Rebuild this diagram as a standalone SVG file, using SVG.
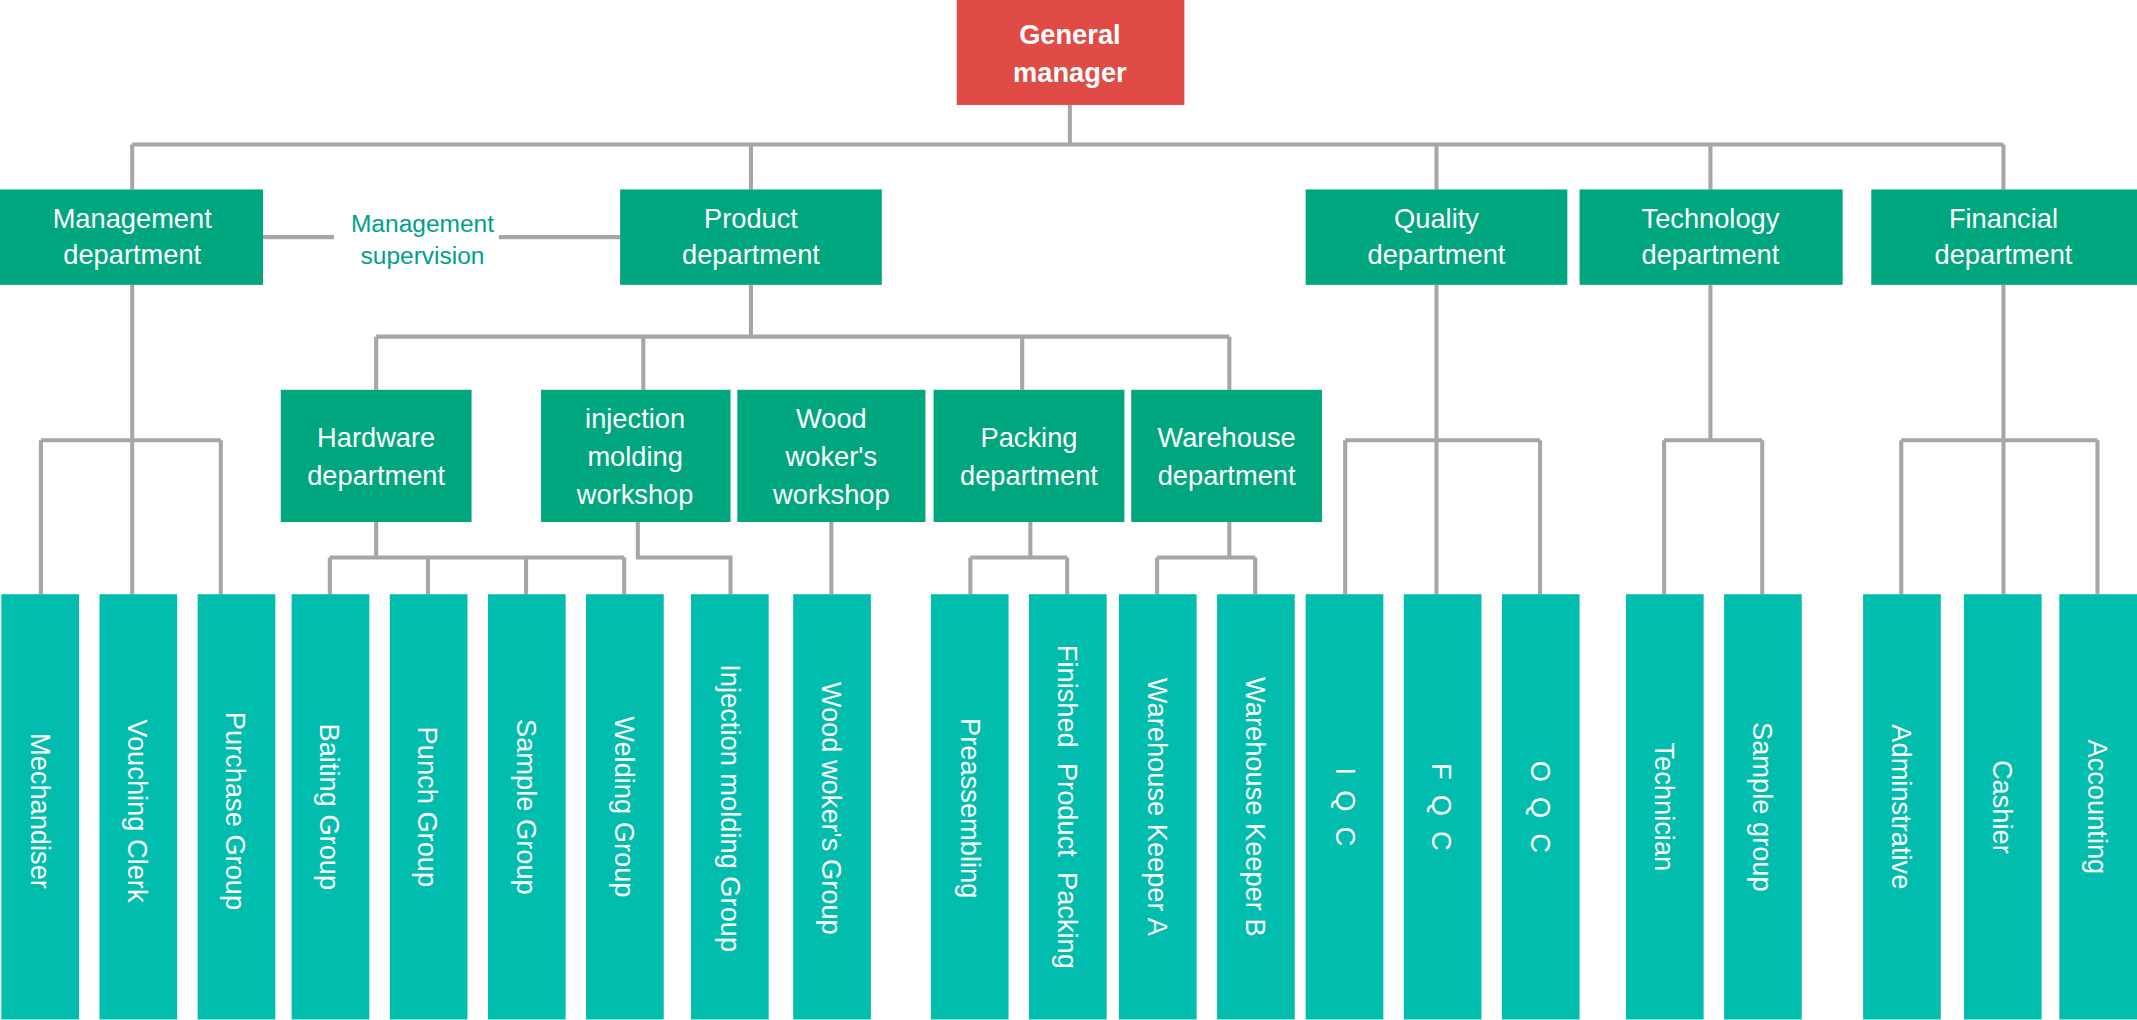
<svg xmlns="http://www.w3.org/2000/svg" width="2137" height="1020" viewBox="0 0 2137 1020">
<style>
.l{stroke:#A6A6A6;stroke-width:3;fill:none}
.g{fill:#00A67E}.t{fill:#00BDAD}
text{font-family:"Liberation Sans",Arial,sans-serif;font-size:20px;fill:#fff;text-anchor:middle}
.v{dominant-baseline:central}
</style>
<rect width="2137" height="1020" fill="#fff"/>
<g transform="scale(1.3629)">
<g id="connectors" class="l">
<path d="M785 77V106M97 106H1470M97 106V139M551 106V139M1054 106V139M1255 106V139M1470 106V139"/>
<path d="M193 174H245M366 174H455"/>
<path d="M551 209V247M276 247H902M276 247V286M472 247V286M750 247V286M902 247V286"/>
<path d="M97 209V436M30 323H162M30 323V436M162 323V436"/>
<path d="M276 383V409M242 409H458M242 409V436M314 409V436M386 409V436M458 409V436"/>
<path d="M468 383V409H536V436M610 383V436"/>
<path d="M756 383V409M712 409H783M712 409V436M783 409V436"/>
<path d="M902 383V409M849 409H921M849 409V436M921 409V436"/>
<path d="M1054 209V436M987 323H1130M987 323V436M1130 323V436"/>
<path d="M1255 209V323M1221 323H1293M1221 323V436M1293 323V436"/>
<path d="M1470 209V436M1395 323H1539M1395 323V436M1539 323V436"/>
</g>
<g id="gm"><rect x="702" y="0" width="167" height="77" fill="#E04B45"/><text x="785" y="32" font-weight="bold" font-size="21">General</text><text x="785" y="60" font-weight="bold" font-size="21">manager</text></g>
<g id="sup"><text x="310" y="170" style="fill:#00A08A;font-size:18px">Management</text><text x="310" y="194" style="fill:#00A08A;font-size:18px">supervision</text></g>
<g id="mgmt"><rect class="g" x="0" y="139" width="193" height="70"/><text x="97" y="167">Management</text><text x="97" y="194">department</text></g>
<g id="prod"><rect class="g" x="455" y="139" width="192" height="70"/><text x="551" y="167">Product</text><text x="551" y="194">department</text></g>
<g id="qual"><rect class="g" x="958" y="139" width="192" height="70"/><text x="1054" y="167">Quality</text><text x="1054" y="194">department</text></g>
<g id="tech"><rect class="g" x="1159" y="139" width="193" height="70"/><text x="1255" y="167">Technology</text><text x="1255" y="194">department</text></g>
<g id="fin"><rect class="g" x="1373" y="139" width="195" height="70"/><text x="1470" y="167">Financial</text><text x="1470" y="194">department</text></g>
<g id="hw"><rect class="g" x="206" y="286" width="140" height="97"/><text x="276" y="328">Hardware</text><text x="276" y="356">department</text></g>
<g id="inj"><rect class="g" x="397" y="286" width="139" height="97"/><text x="466" y="314">injection</text><text x="466" y="342">molding</text><text x="466" y="370">workshop</text></g>
<g id="wood"><rect class="g" x="541" y="286" width="138" height="97"/><text x="610" y="314">Wood</text><text x="610" y="342">woker's</text><text x="610" y="370">workshop</text></g>
<g id="pack"><rect class="g" x="685" y="286" width="140" height="97"/><text x="755" y="328">Packing</text><text x="755" y="356">department</text></g>
<g id="wh"><rect class="g" x="830" y="286" width="140" height="97"/><text x="900" y="328">Warehouse</text><text x="900" y="356">department</text></g>
<g id="leaf1"><rect class="t" x="1" y="436" width="57" height="312"/><text class="v" transform="translate(30 595) rotate(90)">Mechandiser</text></g>
<g id="leaf2"><rect class="t" x="73" y="436" width="57" height="312"/><text class="v" transform="translate(101 595) rotate(90)">Vouching Clerk</text></g>
<g id="leaf3"><rect class="t" x="145" y="436" width="57" height="312"/><text class="v" transform="translate(173 595) rotate(90)">Purchase Group</text></g>
<g id="leaf4"><rect class="t" x="214" y="436" width="57" height="312"/><text class="v" transform="translate(242 592) rotate(90)">Baiting Group</text></g>
<g id="leaf5"><rect class="t" x="286" y="436" width="57" height="312"/><text class="v" transform="translate(314 592) rotate(90)">Punch Group</text></g>
<g id="leaf6"><rect class="t" x="358" y="436" width="57" height="312"/><text class="v" transform="translate(386 592) rotate(90)">Sample Group</text></g>
<g id="leaf7"><rect class="t" x="430" y="436" width="57" height="312"/><text class="v" transform="translate(458 592) rotate(90)">Welding Group</text></g>
<g id="leaf8"><rect class="t" x="507" y="436" width="57" height="312"/><text class="v" transform="translate(536 593) rotate(90)">Injection molding Group</text></g>
<g id="leaf9"><rect class="t" x="582" y="436" width="57" height="312"/><text class="v" transform="translate(610 593) rotate(90)">Wood woker's Group</text></g>
<g id="leaf10"><rect class="t" x="683" y="436" width="57" height="312"/><text class="v" transform="translate(712 593) rotate(90)">Preassembling</text></g>
<g id="leaf11"><rect class="t" x="755" y="436" width="57" height="312"/><text class="v" transform="translate(783 592) rotate(90)" xml:space="preserve">Finished  Product  Packing</text></g>
<g id="leaf12"><rect class="t" x="821" y="436" width="57" height="312"/><text class="v" transform="translate(849 592) rotate(90)">Warehouse Keeper A</text></g>
<g id="leaf13"><rect class="t" x="893" y="436" width="57" height="312"/><text class="v" transform="translate(921 592) rotate(90)">Warehouse Keeper B</text></g>
<g id="leaf14"><rect class="t" x="958" y="436" width="57" height="312"/><text class="v" transform="translate(987 592) rotate(90)" xml:space="preserve">I  Q  C</text></g>
<g id="leaf15"><rect class="t" x="1030" y="436" width="57" height="312"/><text class="v" transform="translate(1058 592) rotate(90)" xml:space="preserve">F  Q  C</text></g>
<g id="leaf16"><rect class="t" x="1102" y="436" width="57" height="312"/><text class="v" transform="translate(1130 592) rotate(90)" xml:space="preserve">O  Q  C</text></g>
<g id="leaf17"><rect class="t" x="1193" y="436" width="57" height="312"/><text class="v" transform="translate(1221 592) rotate(90)">Technician</text></g>
<g id="leaf18"><rect class="t" x="1265" y="436" width="57" height="312"/><text class="v" transform="translate(1293 592) rotate(90)">Sample group</text></g>
<g id="leaf19"><rect class="t" x="1367" y="436" width="57" height="312"/><text class="v" transform="translate(1395 592) rotate(90)">Adminstrative</text></g>
<g id="leaf20"><rect class="t" x="1441" y="436" width="57" height="312"/><text class="v" transform="translate(1469 592) rotate(90)">Cashier</text></g>
<g id="leaf21"><rect class="t" x="1511" y="436" width="57" height="312"/><text class="v" transform="translate(1539 592) rotate(90)">Accounting</text></g>
</g>
</svg>
